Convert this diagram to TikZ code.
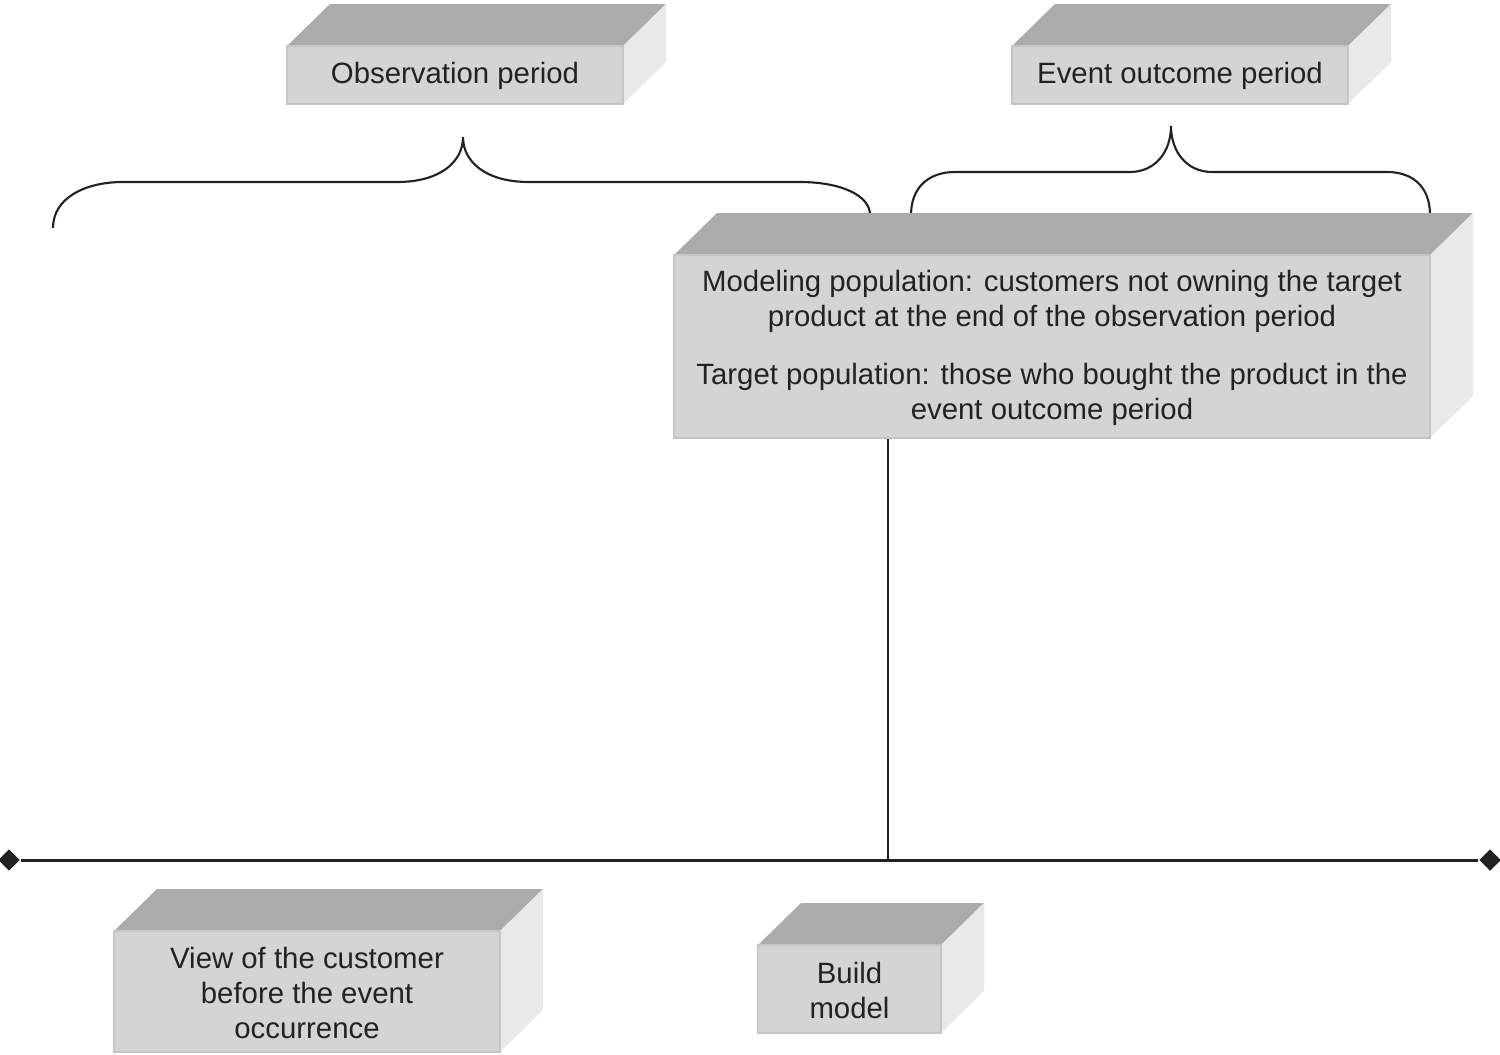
\documentclass[tikz,border=0pt]{standalone}
\usepackage{fontspec}
\setmainfont{Liberation Sans}
\usetikzlibrary{shapes.geometric}
\definecolor{topc}{HTML}{ABABAB}
\definecolor{sidec}{HTML}{E9E9E9}
\definecolor{frontc}{HTML}{D4D4D4}
\definecolor{edgec}{HTML}{C6C6C6}
\definecolor{inkc}{HTML}{222222}
\newcommand\cuboidbox[6]{%
  \fill[topc] (#2,#3) -- (#2+43,#3-42) -- (#4+43,#3-42) -- (#4,#3) -- cycle;
  \fill[sidec] (#4,#3) -- (#4+43,#3-42) -- (#4+43,#5-42) -- (#4,#5) -- cycle;
  \node[frontface, minimum width={(#4-#2)*0.01cm}, minimum height={(#5-#3)*0.01cm}] (#1) at ({(#2+#4)/2},{(#3+#5)/2}) {};
  \node[facetext] at ([yshift=-0.012cm]#1.center) {#6};
}
\begin{document}
\begin{tikzpicture}[x=0.01cm,y=-0.01cm,
  frontface/.style={rectangle, fill=frontc, draw=edgec, line width=0.5pt, inner sep=0pt},
  facetext/.style={inner sep=0pt, align=center, text=inkc, font=\fontsize{8.35}{9.96}\selectfont},
  bracepath/.style={draw=inkc, line width=0.6pt},
  axisline/.style={draw=inkc, line width=0.85pt},
  tick/.style={diamond, fill=inkc, inner sep=0pt, minimum size=0.22cm},
  stem/.style={draw=inkc, line width=0.55pt}]
\useasboundingbox (0,0) rectangle (1500,1054);

% braces
\draw[bracepath] (53,228) .. controls (53,198) and (85,182) .. (123,182) -- (397,182)
  .. controls (440,182) and (463,162) .. (463,137)
  .. controls (463,162) and (486,182) .. (529,182) -- (800,182)
  .. controls (840,182) and (870,195) .. (870,215);
\draw[bracepath] (911,215) .. controls (911,188) and (928,172) .. (955,172) -- (1130,172)
  .. controls (1155,172) and (1171,152) .. (1171,126)
  .. controls (1171,152) and (1187,172) .. (1212,172) -- (1387,172)
  .. controls (1414,172) and (1430,188) .. (1430,215);

% boxes
\cuboidbox{obs}{287}{46}{623}{104}{Observation period}
\cuboidbox{evt}{1012}{46}{1348}{104}{Event outcome period}
\cuboidbox{pop}{674}{255}{1430}{438}{Modeling population: customers not owning the target\\product at the end of the observation period\\[0.23cm]Target population: those who bought the product in the\\event outcome period}
\cuboidbox{view}{114}{931}{500}{1052}{View of the customer\\before the event\\occurrence}
\cuboidbox{build}{758}{945}{941}{1033}{Build\\model}

% timeline
\node[tick] (axl) at (9,860) {};
\node[tick] (axr) at (1490,860) {};
\draw[axisline] (axl) -- (axr);
\coordinate (mid) at (888,860);
\draw[stem] (pop.south -| mid) -- (mid);
\end{tikzpicture}
\end{document}
